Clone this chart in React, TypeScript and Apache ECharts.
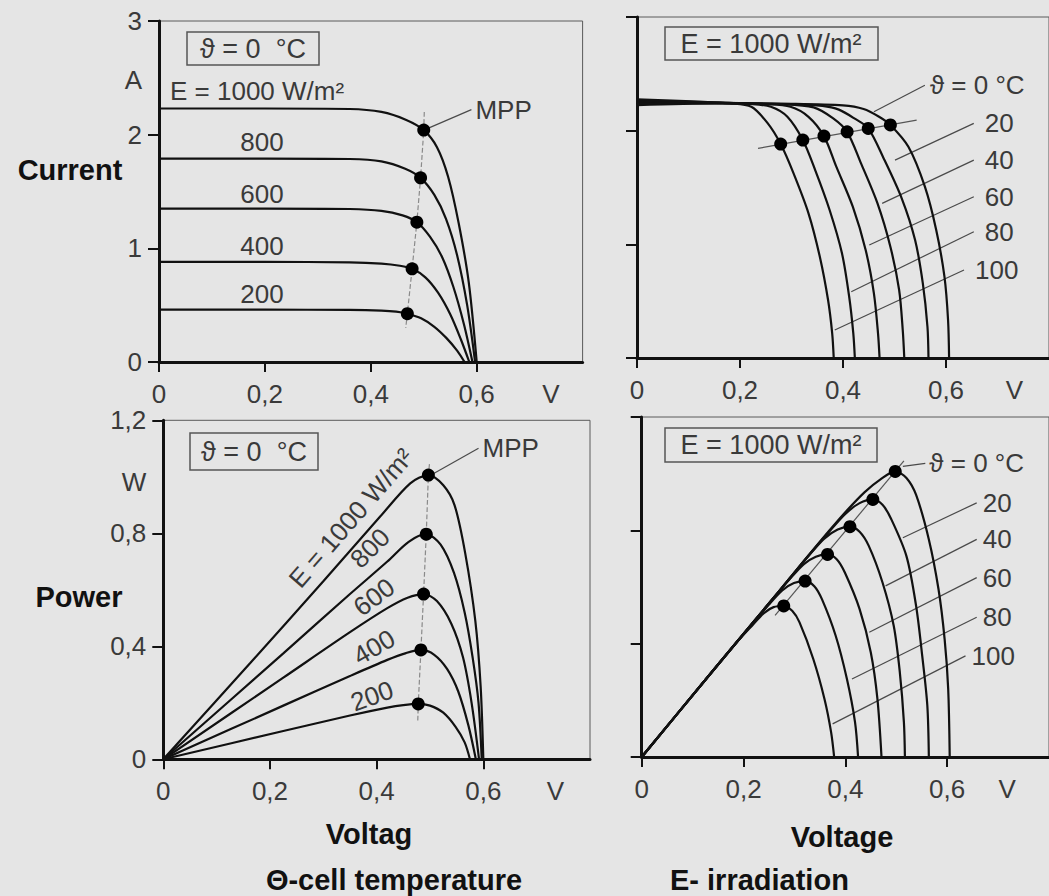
import React, { useEffect, useRef } from 'react';
import * as echarts from 'echarts';

const FONT = '"Liberation Sans", Arial, Helvetica, sans-serif';
const INK = '#111111';
const LABEL = '#3a3a3a';
const BG = '#e5e5e5';

// ---------- axis ticks / labels ----------
const voltageTicks = [0, 0.2, 0.4, 0.6];
const currentTicks = [0, 1, 2, 3];
const powerTicks = [0, 0.4, 0.8, 1.2];
const unitVoltTL = 0.74;
const unitVoltTR = 0.733;
const unitVoltBL = 0.735;
const unitVoltBR = 0.718;
const unitAmp = 2.48;
const unitWatt = 0.98;

// ---------- top-left: current vs voltage, θ = 0 °C, varying irradiance ----------
const irradianceLevels = ['E = 1000 W/m²', '800', '600', '400', '200'];
const ivE1000 = [[0, 2.23], [0.2, 2.23], [0.36, 2.226], [0.42, 2.2], [0.467, 2.13], [0.5, 2.04], [0.525, 1.89], [0.546, 1.63], [0.566, 1.22], [0.585, 0.7], [0.6, 0]];
const ivE800 = [[0, 1.79], [0.2, 1.79], [0.36, 1.786], [0.42, 1.765], [0.465, 1.7], [0.494, 1.62], [0.52, 1.47], [0.542, 1.26], [0.563, 0.94], [0.582, 0.5], [0.597, 0]];
const ivE600 = [[0, 1.35], [0.2, 1.35], [0.36, 1.346], [0.42, 1.33], [0.46, 1.29], [0.487, 1.23], [0.512, 1.1], [0.535, 0.92], [0.556, 0.66], [0.576, 0.33], [0.592, 0]];
const ivE400 = [[0, 0.88], [0.2, 0.88], [0.36, 0.877], [0.42, 0.866], [0.455, 0.847], [0.478, 0.82], [0.503, 0.745], [0.527, 0.61], [0.55, 0.42], [0.57, 0.2], [0.586, 0]];
const ivE200 = [[0, 0.46], [0.2, 0.46], [0.36, 0.458], [0.42, 0.452], [0.448, 0.443], [0.469, 0.425], [0.495, 0.385], [0.52, 0.31], [0.543, 0.21], [0.563, 0.1], [0.577, 0]];
const ivIrradianceMpp = [[0.5, 2.04], [0.494, 1.62], [0.487, 1.23], [0.478, 0.82], [0.469, 0.425]];
const ivIrradianceMppGuide = [[0.501, 2.2], [0.5, 2.04], [0.494, 1.62], [0.487, 1.23], [0.478, 0.82], [0.469, 0.425], [0.466, 0.3]];
const ivMppLeader = [[0.51, 2.06], [0.59, 2.22]];

// ---------- bottom-left: power vs voltage, θ = 0 °C, varying irradiance ----------
const pvE1000 = [[0, 0], [0.163, 0.341], [0.3, 0.63], [0.407, 0.86], [0.463, 0.977], [0.497, 1.006], [0.525, 0.97], [0.546, 0.9], [0.566, 0.73], [0.585, 0.49], [0.595, 0.257], [0.6, 0]];
const pvE800 = [[0, 0], [0.225, 0.375], [0.35, 0.585], [0.42, 0.7], [0.46, 0.77], [0.493, 0.797], [0.52, 0.76], [0.545, 0.66], [0.565, 0.52], [0.58, 0.36], [0.591, 0.2], [0.597, 0]];
const pvE600 = [[0, 0], [0.225, 0.289], [0.35, 0.45], [0.42, 0.535], [0.458, 0.572], [0.488, 0.585], [0.513, 0.56], [0.54, 0.48], [0.562, 0.36], [0.578, 0.2], [0.592, 0]];
const pvE400 = [[0, 0], [0.225, 0.19], [0.35, 0.295], [0.42, 0.352], [0.455, 0.376], [0.483, 0.387], [0.508, 0.37], [0.532, 0.32], [0.553, 0.24], [0.572, 0.12], [0.586, 0]];
const pvE200 = [[0, 0], [0.225, 0.1], [0.35, 0.155], [0.42, 0.183], [0.45, 0.192], [0.478, 0.196], [0.5, 0.19], [0.525, 0.165], [0.548, 0.115], [0.565, 0.06], [0.575, 0]];
const pvIrradianceMpp = [[0.497, 1.006], [0.493, 0.797], [0.488, 0.585], [0.483, 0.387], [0.478, 0.196]];
const pvIrradianceMppGuide = [[0.499, 1.045], [0.497, 1.006], [0.493, 0.797], [0.488, 0.585], [0.483, 0.387], [0.478, 0.196], [0.477, 0.13]];
const pvMppLeader = [[0.507, 1.012], [0.591, 1.101]];

// ---------- top-right: current vs voltage, E = 1000 W/m², varying temperature ----------
const temperatureLevels = ['ϑ = 0 °C', '20', '40', '60', '80', '100'];
const ivT0 = [[0, 2.225], [0.15, 2.24], [0.3, 2.236], [0.4, 2.222], [0.44, 2.19], [0.47, 2.122], [0.492, 2.05], [0.527, 1.858], [0.559, 1.507], [0.581, 1.126], [0.597, 0.715], [0.604, 0.334], [0.606, 0]];
const ivT20 = [[0, 2.235], [0.15, 2.242], [0.3, 2.233], [0.36, 2.218], [0.392, 2.185], [0.422, 2.108], [0.449, 2.02], [0.479, 1.756], [0.514, 1.405], [0.54, 1.038], [0.555, 0.657], [0.564, 0.275], [0.566, 0]];
const ivT40 = [[0, 2.245], [0.15, 2.244], [0.28, 2.233], [0.343, 2.205], [0.381, 2.108], [0.408, 1.99], [0.435, 1.712], [0.467, 1.36], [0.492, 0.979], [0.509, 0.598], [0.516, 0.246], [0.519, 0]];
const ivT60 = [[0, 2.255], [0.15, 2.246], [0.25, 2.232], [0.298, 2.21], [0.333, 2.122], [0.363, 1.952], [0.387, 1.683], [0.419, 1.331], [0.444, 0.95], [0.46, 0.569], [0.468, 0.217], [0.471, 0]];
const ivT80 = [[0, 2.265], [0.15, 2.248], [0.22, 2.235], [0.26, 2.21], [0.292, 2.122], [0.322, 1.917], [0.346, 1.653], [0.374, 1.302], [0.398, 0.921], [0.412, 0.539], [0.42, 0.217], [0.423, 0]];
const ivT100 = [[0, 2.275], [0.12, 2.255], [0.18, 2.24], [0.222, 2.21], [0.254, 2.064], [0.279, 1.882], [0.304, 1.624], [0.333, 1.273], [0.355, 0.891], [0.371, 0.51], [0.379, 0.217], [0.382, 0]];
const ivTemperatureMpp = [[0.492, 2.05], [0.449, 2.02], [0.408, 1.99], [0.363, 1.952], [0.322, 1.917], [0.279, 1.882]];
const ivTemperatureMppGuide = [[0.235, 1.844], [0.543, 2.093]];
const ivTemperatureLeaders = [
  [[0.46, 2.166], [0.559, 2.4]],
  [[0.501, 1.741], [0.654, 2.064]],
  [[0.476, 1.36], [0.654, 1.741]],
  [[0.451, 0.994], [0.654, 1.419]],
  [[0.416, 0.583], [0.654, 1.111]],
  [[0.384, 0.246], [0.635, 0.774]],
];

// ---------- bottom-right: power vs voltage, E = 1000 W/m², varying temperature ----------
const pvT0 = [[0, 0], [0.124, 0.27], [0.186, 0.404], [0.249, 0.54], [0.29, 0.629], [0.328, 0.712], [0.369, 0.8], [0.403, 0.87], [0.438, 0.935], [0.469, 0.98], [0.498, 1.008], [0.52, 0.985], [0.539, 0.925], [0.564, 0.768], [0.583, 0.592], [0.595, 0.416], [0.602, 0.24], [0.605, 0]];
const pvT20 = [[0, 0], [0.124, 0.27], [0.186, 0.404], [0.249, 0.54], [0.29, 0.629], [0.328, 0.712], [0.369, 0.797], [0.4, 0.858], [0.428, 0.896], [0.454, 0.909], [0.473, 0.89], [0.49, 0.84], [0.52, 0.709], [0.539, 0.533], [0.551, 0.357], [0.561, 0.182], [0.564, 0]];
const pvT40 = [[0, 0], [0.124, 0.27], [0.186, 0.404], [0.249, 0.54], [0.29, 0.629], [0.328, 0.71], [0.358, 0.77], [0.385, 0.803], [0.409, 0.813], [0.428, 0.795], [0.446, 0.745], [0.473, 0.616], [0.495, 0.463], [0.507, 0.299], [0.515, 0.123], [0.517, 0]];
const pvT60 = [[0, 0], [0.124, 0.27], [0.186, 0.404], [0.249, 0.54], [0.29, 0.626], [0.318, 0.68], [0.342, 0.707], [0.365, 0.715], [0.383, 0.698], [0.399, 0.651], [0.428, 0.522], [0.45, 0.369], [0.463, 0.205], [0.471, 0]];
const pvT80 = [[0, 0], [0.124, 0.27], [0.186, 0.404], [0.249, 0.536], [0.276, 0.588], [0.299, 0.614], [0.321, 0.621], [0.339, 0.603], [0.354, 0.557], [0.381, 0.428], [0.403, 0.276], [0.419, 0.123], [0.425, 0]];
const pvT100 = [[0, 0], [0.124, 0.27], [0.186, 0.403], [0.218, 0.466], [0.24, 0.508], [0.259, 0.529], [0.279, 0.533], [0.296, 0.515], [0.31, 0.475], [0.337, 0.346], [0.359, 0.205], [0.372, 0.088], [0.378, 0]];
const pvTemperatureMpp = [[0.498, 1.008], [0.454, 0.909], [0.409, 0.813], [0.365, 0.715], [0.321, 0.621], [0.279, 0.533]];
const pvTemperatureMppGuide = [[0.262, 0.5], [0.515, 1.045]];
const pvTemperatureLeaders = [
  [[0.513, 1.026], [0.557, 1.036]],
  [[0.513, 0.774], [0.658, 0.897]],
  [[0.479, 0.604], [0.658, 0.768]],
  [[0.447, 0.44], [0.658, 0.633]],
  [[0.413, 0.275], [0.658, 0.493]],
  [[0.375, 0.117], [0.636, 0.357]],
];

// ---------- helpers ----------
const fmtNum = (v: number) => (v === 0 ? '0' : v.toFixed(1).replace('.', ','));

function xAxis(gridIndex: number, unitPos: number) {
  return {
    type: 'value', gridIndex, min: 0, max: 0.8, interval: 0.2,
    axisLine: { show: true, onZero: false, lineStyle: { color: INK, width: 3 } },
    axisTick: { show: true, inside: false, length: 10, customValues: voltageTicks, lineStyle: { color: INK, width: 2 } },
    axisLabel: {
      show: true, customValues: [...voltageTicks, unitPos], margin: 19,
      fontSize: 26, color: LABEL, fontFamily: FONT,
      formatter: (v: number) => (Math.abs(v - unitPos) < 1e-6 ? 'V' : fmtNum(v)),
    },
    splitLine: { show: false },
  };
}

function yAxis(gridIndex: number, max: number, interval: number, ticks: number[], labels: boolean, unitPos?: number, unit?: string, intFmt?: boolean) {
  return {
    type: 'value', gridIndex, min: 0, max, interval,
    axisLine: { show: true, onZero: false, lineStyle: { color: INK, width: 3 } },
    axisTick: { show: true, inside: false, length: 11, customValues: ticks, lineStyle: { color: INK, width: 2 } },
    axisLabel: {
      show: labels, customValues: unitPos !== undefined ? [...ticks, unitPos] : ticks, margin: 17,
      fontSize: 26, color: LABEL, fontFamily: FONT,
      formatter: (v: number) => {
        if (unitPos !== undefined && Math.abs(v - unitPos) < 1e-6) return unit;
        return intFmt ? String(Math.round(v)) : fmtNum(v);
      },
    },
    splitLine: { show: false },
  };
}

const curve = (data: number[][], g: number) => ({
  type: 'line', xAxisIndex: g, yAxisIndex: g, data, smooth: 0.3,
  symbol: 'none', silent: true, z: 3, lineStyle: { color: INK, width: 2.2 },
});
const dots = (data: number[][], g: number) => ({
  type: 'scatter', xAxisIndex: g, yAxisIndex: g, data, symbolSize: 13, silent: true, z: 5,
  itemStyle: { color: '#000', opacity: 1 },
});
const guide = (data: number[][], g: number, dashed: boolean) => ({
  type: 'line', xAxisIndex: g, yAxisIndex: g, data, symbol: 'none', silent: true, z: 2,
  lineStyle: { color: dashed ? '#8a8a8a' : '#555', width: 1.2, type: dashed ? 'dashed' : 'solid' },
});
const leader = (data: number[][], g: number, text: string, distance: number) => ({
  type: 'line', xAxisIndex: g, yAxisIndex: g, data, symbol: 'none', silent: true, z: 2,
  lineStyle: { color: '#4a4a4a', width: 1.2 },
  endLabel: { show: true, formatter: text, distance, fontSize: 26, color: LABEL, fontFamily: FONT },
});

const textEl = (text: string, x: number, y: number, opts: any = {}) => ({
  type: 'text', x, y, rotation: opts.rotation || 0, silent: true, z: 10,
  style: {
    text, fill: opts.fill || LABEL, fontSize: opts.fontSize || 26, fontFamily: FONT,
    fontWeight: opts.bold ? 'bold' : 'normal',
    align: opts.align || 'center', verticalAlign: 'middle',
    textAlign: opts.align || 'center', textVerticalAlign: 'middle',
  },
});
const boxEl = (x: number, y: number, w: number, h: number) => ({
  type: 'rect', silent: true, z: 9, shape: { x, y, width: w, height: h },
  style: { fill: 'none', stroke: '#555', lineWidth: 1.5 },
});

const deg = (d: number) => (d * Math.PI) / 180;

export default function App() {
  const ref = useRef<HTMLDivElement>(null);
  useEffect(() => {
    if (!ref.current) return;
    const chart = echarts.init(ref.current, null, { renderer: 'svg' });
    const ivIrr = [ivE1000, ivE800, ivE600, ivE400, ivE200];
    const pvIrr = [pvE1000, pvE800, pvE600, pvE400, pvE200];
    const ivTmp = [ivT0, ivT20, ivT40, ivT60, ivT80, ivT100];
    const pvTmp = [pvT0, pvT20, pvT40, pvT60, pvT80, pvT100];
    const series: any[] = [];
    ivIrr.forEach((d) => series.push(curve(d, 0)));
    ivTmp.forEach((d) => series.push(curve(d, 1)));
    pvIrr.forEach((d) => series.push(curve(d, 2)));
    pvTmp.forEach((d) => series.push(curve(d, 3)));
    series.push(guide(ivIrradianceMppGuide, 0, true));
    series.push(guide(pvIrradianceMppGuide, 2, true));
    series.push(guide(ivTemperatureMppGuide, 1, false));
    series.push(guide(pvTemperatureMppGuide, 3, false));
    series.push(leader(ivMppLeader, 0, 'MPP', 4));
    series.push(leader(pvMppLeader, 2, 'MPP', 4));
    ivTemperatureLeaders.forEach((d, i) => series.push(leader(d, 1, temperatureLevels[i], i === 0 ? 5 : 11)));
    pvTemperatureLeaders.forEach((d, i) => series.push(leader(d, 3, temperatureLevels[i], i === 0 ? 4 : 6)));
    series.push(dots(ivIrradianceMpp, 0));
    series.push(dots(ivTemperatureMpp, 1));
    series.push(dots(pvIrradianceMpp, 2));
    series.push(dots(pvTemperatureMpp, 3));

    const grid = (left: number, top: number, width: number, height: number) => ({
      left, top, width, height, show: true, borderColor: '#5a5a5a', borderWidth: 1, backgroundColor: 'transparent',
    });

    chart.setOption({
      animation: false,
      backgroundColor: BG,
      grid: [
        grid(159, 21, 423.6, 341),
        grid(637, 17, 419.6, 341),
        grid(163.3, 420.3, 426.7, 339),
        grid(641.7, 417, 424.4, 340),
      ],
      xAxis: [xAxis(0, unitVoltTL), xAxis(1, unitVoltTR), xAxis(2, unitVoltBL), xAxis(3, unitVoltBR)],
      yAxis: [
        yAxis(0, 3, 1, currentTicks, true, unitAmp, 'A', true),
        yAxis(1, 3, 1, currentTicks, false),
        yAxis(2, 1.2, 0.4, powerTicks, true, unitWatt, 'W', false),
        yAxis(3, 1.2, 0.4, powerTicks, false),
      ],
      series,
      graphic: [
        boxEl(187, 32, 132, 33), textEl('ϑ = 0  °C', 253, 49, { fontSize: 27 }),
        boxEl(190, 433, 128, 37), textEl('ϑ = 0  °C', 254, 452, { fontSize: 27 }),
        boxEl(665, 27, 213, 33), textEl('E = 1000 W/m²', 771, 44, { fontSize: 27 }),
        boxEl(665, 428, 212, 34), textEl('E = 1000 W/m²', 771, 445, { fontSize: 27 }),
        textEl(irradianceLevels[0], 170, 91, { align: 'left' }),
        textEl(irradianceLevels[1], 262, 142),
        textEl(irradianceLevels[2], 262, 194),
        textEl(irradianceLevels[3], 262, 246),
        textEl(irradianceLevels[4], 262, 294),
        textEl(irradianceLevels[0], 351, 518, { rotation: deg(49) }),
        textEl(irradianceLevels[1], 370, 548, { rotation: deg(45) }),
        textEl(irradianceLevels[2], 374, 597, { rotation: deg(37) }),
        textEl(irradianceLevels[3], 374, 647, { rotation: deg(30) }),
        textEl(irradianceLevels[4], 372, 696, { rotation: deg(20) }),
        textEl('Current', 70, 170, { bold: true, fontSize: 29, fill: '#111' }),
        textEl('Power', 79, 597, { bold: true, fontSize: 29, fill: '#111' }),
        textEl('Voltag', 369, 834, { bold: true, fontSize: 29, fill: '#111' }),
        textEl('Θ-cell temperature', 394, 880, { bold: true, fontSize: 29, fill: '#111' }),
        textEl('Voltage', 842, 837, { bold: true, fontSize: 29, fill: '#111' }),
        textEl('E- irradiation', 670, 880, { bold: true, fontSize: 29, fill: '#111', align: 'left' }),
      ],
    });
    return () => chart.dispose();
  }, []);
  return (
    <div style={{ position: 'absolute', left: 0, top: 0, width: 1049, height: 896, background: BG }}>
      <div ref={ref} style={{ width: 1049, height: 896 }} />
    </div>
  );
}
